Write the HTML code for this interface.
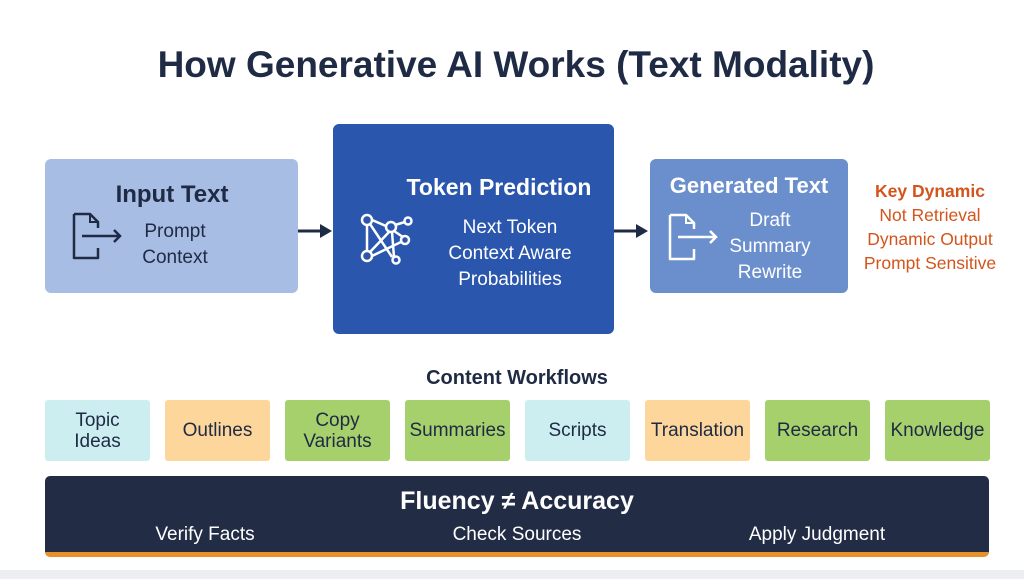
<!DOCTYPE html>
<html><head><meta charset="utf-8"><style>
body{margin:0;width:1024px;height:579px;background:#fff;position:relative;overflow:hidden;font-family:"Liberation Sans",sans-serif;}
.a{position:absolute;}
.c{text-align:center;}
.box{position:absolute;border-radius:6px;}
.tile{position:absolute;top:400px;width:105px;height:61px;border-radius:3px;display:flex;align-items:center;justify-content:center;text-align:center;font-size:19px;line-height:21px;color:#1f2a44;}
.cy{background:#cdeef0}.or{background:#fdd69b}.gr{background:#a6d06c}
</style></head><body>
<div class="a" style="left:0;top:570px;width:1024px;height:9px;background:#eceef2"></div>
<div class="a c" style="left:0;width:1032px;top:44px;font-weight:bold;font-size:37px;color:#1f2a44;">How Generative AI Works (Text Modality)</div>

<div class="box" style="left:45px;top:159px;width:253px;height:134px;background:#a8bde3"></div>
<div class="a c" style="left:102px;width:140px;top:181px;font-weight:bold;font-size:24px;color:#1f2a44">Input Text</div>
<div class="a c" style="left:120px;width:110px;top:219px;font-size:19px;line-height:26px;color:#1f2a44">Prompt<br>Context</div>
<svg class="a" style="left:70px;top:210px" width="56" height="52" viewBox="0 0 56 52"><path d="M4 4h16l8 8v6M28 38v10H4V4" fill="none" stroke="#1f2a44" stroke-width="2.5" stroke-linejoin="round"/><path d="M20 4v8h8" fill="none" stroke="#1f2a44" stroke-width="2"/><path d="M12 26h38M44 20l6 6-6 6" fill="none" stroke="#1f2a44" stroke-width="2.5"/></svg>

<svg class="a" style="left:298px;top:222px" width="36" height="18"><path d="M0 9h26" stroke="#1f2a44" stroke-width="3"/><path d="M22 2l12 7-12 7z" fill="#1f2a44"/></svg>
<svg class="a" style="left:614px;top:222px" width="36" height="18"><path d="M0 9h26" stroke="#1f2a44" stroke-width="3"/><path d="M22 2l12 7-12 7z" fill="#1f2a44"/></svg>

<div class="box" style="left:333px;top:124px;width:281px;height:210px;background:#2a56ad"></div>
<div class="a c" style="left:389px;width:220px;top:174px;font-weight:bold;font-size:23px;color:#fff">Token Prediction</div>
<div class="a c" style="left:415px;width:190px;top:215px;font-size:19px;line-height:26px;color:#fff">Next Token<br>Context Aware<br>Probabilities</div>
<svg class="a" style="left:358px;top:208px" width="60" height="60" viewBox="0 0 60 60" fill="none" stroke="#fff" stroke-width="2.5"><circle cx="9" cy="12" r="5"/><circle cx="9" cy="48" r="5"/><circle cx="33" cy="19" r="5"/><circle cx="50" cy="13" r="3.5"/><circle cx="47" cy="32" r="4"/><circle cx="38" cy="52" r="3.5"/><path d="M14 12l14 6M37 17l10-3M12 16l22 33M12 44l20-21M36 23l9 6M14 48l29-14M34 24l2 25M9 17v26"/></svg>

<div class="box" style="left:650px;top:159px;width:198px;height:134px;background:#6b8fcd"></div>
<div class="a c" style="left:654px;width:190px;top:173px;font-weight:bold;font-size:22px;color:#fff">Generated Text</div>
<div class="a c" style="left:720px;width:100px;top:208px;font-size:19px;line-height:26px;color:#fff">Draft<br>Summary<br>Rewrite</div>
<svg class="a" style="left:666px;top:211px" width="56" height="52" viewBox="0 0 56 52"><path d="M4 4h16l8 8v6M28 38v10H4V4" fill="none" stroke="#fff" stroke-width="2.5" stroke-linejoin="round"/><path d="M20 4v8h8" fill="none" stroke="#fff" stroke-width="2"/><path d="M12 26h38M44 20l6 6-6 6" fill="none" stroke="#fff" stroke-width="2.5"/></svg>

<div class="a c" style="left:850px;width:160px;top:179px;font-size:17.5px;line-height:24px;color:#d4541c"><b>Key Dynamic</b><br>Not Retrieval<br>Dynamic Output<br>Prompt Sensitive</div>

<div class="a c" style="left:0;width:1034px;top:367px;font-weight:bold;font-size:20px;color:#1f2a44">Content Workflows</div>
<div class="tile cy" style="left:45px">Topic<br>Ideas</div>
<div class="tile or" style="left:165px">Outlines</div>
<div class="tile gr" style="left:285px">Copy<br>Variants</div>
<div class="tile gr" style="left:405px">Summaries</div>
<div class="tile cy" style="left:525px">Scripts</div>
<div class="tile or" style="left:645px">Translation</div>
<div class="tile gr" style="left:765px">Research</div>
<div class="tile gr" style="left:885px">Knowledge</div>

<div class="box" style="left:45px;top:476px;width:944px;height:76px;background:#222c45;border-bottom:5px solid #e8912a;border-radius:5px"></div>
<div class="a c" style="left:0;width:1034px;top:487px;font-weight:bold;font-size:25px;color:#fff">Fluency ≠ Accuracy</div>
<div class="a c" style="left:105px;width:200px;top:524px;font-size:19px;color:#fff">Verify Facts</div>
<div class="a c" style="left:417px;width:200px;top:524px;font-size:19px;color:#fff">Check Sources</div>
<div class="a c" style="left:717px;width:200px;top:524px;font-size:19px;color:#fff">Apply Judgment</div>
</body></html>
